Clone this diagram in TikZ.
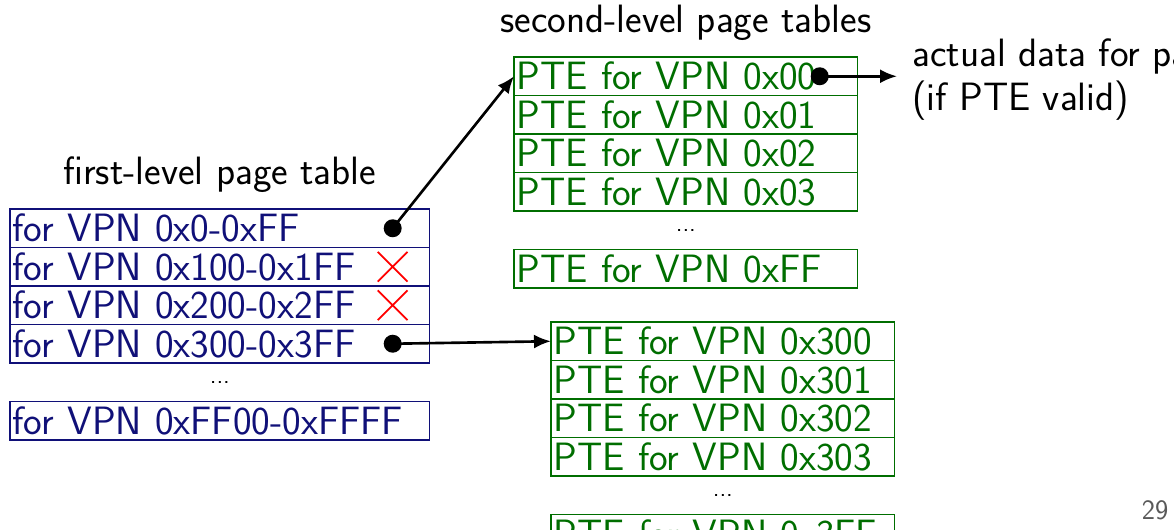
\documentclass[tikz,border=0pt]{standalone}
\usepackage{fontspec}
\usetikzlibrary{arrows.meta,positioning,shapes.misc}

\definecolor{ptnavy}{RGB}{16,16,120}
\definecolor{ptgreen}{RGB}{0,110,0}

\tikzset{
  ptrow/.style={draw, line width=0.8pt, outer sep=0pt, inner xsep=1.5pt, inner ysep=0pt,
    minimum height=0.77cm, align=left},
  firstrow/.style={ptrow, draw=ptnavy, text=ptnavy, text width=8.29cm},
  secondrow/.style={ptrow, draw=ptgreen, text=ptgreen, text width=6.77cm},
  gaprow/.style={outer sep=0pt, inner sep=0pt, minimum height=0.77cm,
    font=\sffamily\fontsize{14}{16}\selectfont},
  tabletitle/.style={inner sep=0pt},
  valid/.style={circle, fill=black, inner sep=0pt, minimum size=0.36cm},
  invalid/.style={cross out, draw=red, line width=1pt, inner sep=0pt, minimum size=0.56cm},
  ptr/.style={-{Latex[length=0.34cm,width=0.28cm]}, line width=1.5pt},
}

\begin{document}
\begin{tikzpicture}[x=0.02cm, y=-0.02cm, font=\sffamily\fontsize{22.5}{25}\selectfont]
    \useasboundingbox (0,0) rectangle (1174,529);
    \clip (0,0) rectangle (1174,529);

    % first-level page table
    \node[firstrow, anchor=north west] (fl1) at (10,209) {for VPN 0x0-0xFF};
    \node[firstrow, below=0pt of fl1] (fl2) {for VPN 0x100-0x1FF};
    \node[firstrow, below=0pt of fl2] (fl3) {for VPN 0x200-0x2FF};
    \node[firstrow, below=0pt of fl3] (fl4) {for VPN 0x300-0x3FF};
    \node[gaprow, below=0pt of fl4] (flgap) {...};
    \node[firstrow, below=0pt of flgap] (fl5) {for VPN 0xFF00-0xFFFF};
    \node[tabletitle, above=0.32cm of fl1] (fltitle) {first-level page table};

    % valid / invalid entries
    \node[valid] (v1) at ([xshift=-0.74cm]fl1.east) {};
    \node[invalid] (x2) at ([xshift=-0.74cm]fl2.east) {};
    \node[invalid] (x3) at ([xshift=-0.74cm]fl3.east) {};
    \node[valid] (v4) at ([xshift=-0.74cm]fl4.east) {};

    % second-level page table for 0x0-0xFF
    \node[secondrow, anchor=north west] (sa1) at (514,57) {PTE for VPN 0x00};
    \node[secondrow, below=0pt of sa1] (sa2) {PTE for VPN 0x01};
    \node[secondrow, below=0pt of sa2] (sa3) {PTE for VPN 0x02};
    \node[secondrow, below=0pt of sa3] (sa4) {PTE for VPN 0x03};
    \node[gaprow, below=0pt of sa4] (sagap) {...};
    \node[secondrow, below=0pt of sagap] (sa5) {PTE for VPN 0xFF};
    \node[tabletitle, above=0.32cm of sa1] (sltitle) {second-level page tables};

    % second-level page table for 0x300-0x3FF
    \node[secondrow, anchor=north west] (sb1) at (551,322) {PTE for VPN 0x300};
    \node[secondrow, below=0pt of sb1] (sb2) {PTE for VPN 0x301};
    \node[secondrow, below=0pt of sb2] (sb3) {PTE for VPN 0x302};
    \node[secondrow, below=0pt of sb3] (sb4) {PTE for VPN 0x303};
    \node[gaprow, below=0pt of sb4] (sbgap) {...};
    \node[secondrow, below=0pt of sbgap] (sb5) {PTE for VPN 0x3FF};

    % data page
    \node[valid] (v0) at ([xshift=-0.76cm]sa1.east) {};
    \node[anchor=west, align=left, inner sep=0pt] (data) at (912,80) {actual data for page\\(if PTE valid)};

    % pointers
    \draw[ptr] (v1.center) -- (sa1.west);
    \draw[ptr] (v4.center) -- (sb1.west);
    \draw[ptr] (v0.center) -- ([xshift=-0.3cm]data.west |- v0);

    \node[font=\sffamily\fontsize{16}{18}\selectfont, text=black!65] (pagenum) at (1155,510) {29};
\end{tikzpicture}
\end{document}
